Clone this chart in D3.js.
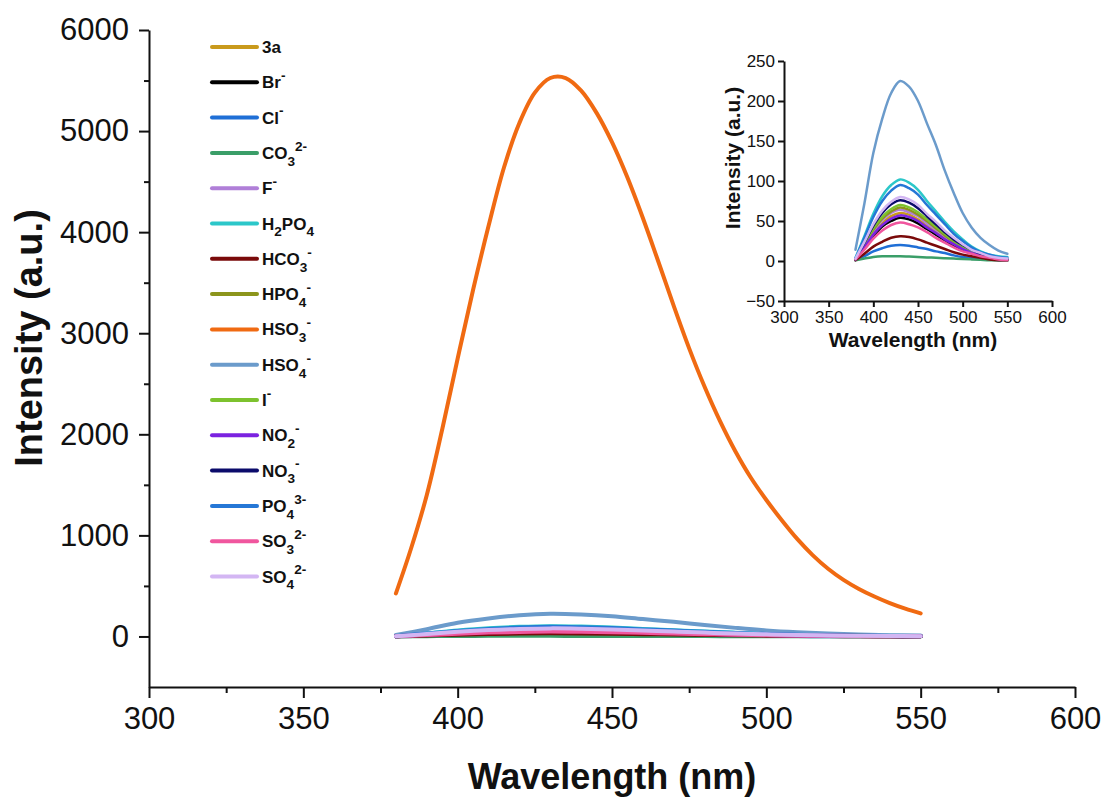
<!DOCTYPE html>
<html><head><meta charset="utf-8">
<script src="https://cdn.jsdelivr.net/npm/d3@7"></script>
<style>
body{margin:0;background:#fff}
text{font-family:"Liberation Sans",Arial,sans-serif;fill:#111}
</style>
</head><body>
<svg id="chart" width="1106" height="800"></svg>
<script>
// ---------------- data ----------------
const wlMain = [380,385,390,395,400,405,410,415,420,425,430,435,440,445,450,455,460,465,470,475,480,485,490,495,500,505,510,515,520,525,530,535,540,545,550];
const valHSO3 = [426,880,1400,2050,2750,3430,4060,4640,5080,5380,5525,5525,5400,5180,4890,4540,4140,3710,3270,2850,2470,2130,1830,1570,1350,1150,965,805,670,560,470,395,330,275,228];

const wl = [380,390,400,410,420,430,440,450,460,470,480,490,500,510,520,530,540,550];
const val3a   = [2,18,35,47,56,60,58,52,44,37,29,22,16,11,7,5,3,2];
const valBr   = [2,16,31,43,50,54,52,47,40,33,26,19,14,10,6,4,3,2];
const valCl   = [1,6,12,16,19,20,19,17,15,12,10,7,5,4,2,2,1,1];
const valCO3  = [1,3,5,6,6,6,5.5,5,4.5,4,3.5,3,2.5,2,1.5,1,1,0.5];
const valF    = [2,19,37,51,60,64,61,56,47,39,31,23,17,12,8,5,3,2];
const valH2PO4= [4,31,59,81,95,102,98,89,75,62,49,37,27,18,12,8,6,5];
const valHCO3 = [1,9,18,24,29,31,30,27,23,19,15,11,8,6,4,2,1,1];
const valHPO4 = [2,20,39,53,62,67,64,58,50,41,32,24,17,12,8,5,3,2];
const valHSO4 = [14,72,135,178,210,225,218,200,172,145,113,85,60,42,29,20,13,9];
const valI    = [2,21,41,55,65,70,67,61,52,43,34,25,18,13,8,6,3,2];
const valNO2  = [2,17,33,45,53,57,55,50,42,35,27,21,15,10,7,5,3,2];
const valNO3  = [2,23,44,60,71,76,73,66,56,46,36,27,20,14,9,6,4,2];
const valPO4  = [3,29,55,75,88,95,91,83,70,58,46,34,25,17,11,8,5,4];
const valSO3  = [2,14,28,38,45,48,46,42,36,29,23,17,12,9,6,4,2,1];
const valSO4  = [3,24,46,63,74,80,77,70,59,49,38,29,21,14,10,6,4,3];

const seriesLabels = ["3a","Br^{-}","Cl^{-}","CO_{3}^{2-}","F^{-}","H_{2}PO_{4}","HCO_{3}^{-}","HPO_{4}^{-}","HSO_{3}^{-}","HSO_{4}^{-}","I^{-}","NO_{2}^{-}","NO_{3}^{-}","PO_{4}^{3-}","SO_{3}^{2-}","SO_{4}^{2-}"];
const seriesColors = ["#C99A1C","#000000","#1F6FD6","#3A9E68","#B07FD8","#2CC7C9","#7A0A0A","#8C951C","#F06A12","#6B9BCB","#7DC22E","#7B22E0","#0B0B6B","#2577D6","#F0569E","#D3B6F3"];
const seriesValues = [val3a,valBr,valCl,valCO3,valF,valH2PO4,valHCO3,valHPO4,null,valHSO4,valI,valNO2,valNO3,valPO4,valSO3,valSO4];

const mainXTicks = [300,350,400,450,500,550,600];
const mainXMinor = [325,375,425,475,525,575];
const mainYTicks = [0,1000,2000,3000,4000,5000,6000];
const mainYMinor = [500,1500,2500,3500,4500,5500];
const insetXTicks = [300,350,400,450,500,550,600];
const insetYTicks = [-50,0,50,100,150,200,250];

// ---------------- drawing ----------------
const svg = d3.select("#chart");

const x = d3.scaleLinear().domain([300,600]).range([149,1075]);
const y = d3.scaleLinear().domain([-500,6000]).range([687,30]);

function styleAxis(g, fs){
  g.selectAll("path.domain").attr("stroke","#111").attr("stroke-width",2);
  g.selectAll(".tick line").attr("stroke","#111").attr("stroke-width",2);
  g.selectAll(".tick text").attr("font-size",fs).attr("fill","#111").attr("font-family",'"Liberation Sans",Arial,sans-serif');
}

// main axes
const gx = svg.append("g").attr("transform","translate(0,687)")
  .call(d3.axisBottom(x).tickValues(mainXTicks).tickSize(11).tickSizeOuter(0).tickPadding(9).tickFormat(d3.format("d")));
styleAxis(gx, 31);
const gxm = svg.append("g").attr("transform","translate(0,687)")
  .call(d3.axisBottom(x).tickValues(mainXMinor).tickSize(6).tickSizeOuter(0).tickFormat(""));
styleAxis(gxm, 31); gxm.select("path.domain").remove();

const gy = svg.append("g").attr("transform","translate(149,0)")
  .call(d3.axisLeft(y).tickValues(mainYTicks).tickSize(10).tickSizeOuter(0).tickPadding(10).tickFormat(d3.format("d")));
styleAxis(gy, 31);
const gym = svg.append("g").attr("transform","translate(149,0)")
  .call(d3.axisLeft(y).tickValues(mainYMinor).tickSize(5).tickSizeOuter(0).tickFormat(""));
styleAxis(gym, 31); gym.select("path.domain").remove();

svg.append("text").attr("x",612).attr("y",789).attr("text-anchor","middle")
  .attr("font-size",36).attr("font-weight","bold").text("Wavelength (nm)");
svg.append("text").attr("transform","translate(42,338) rotate(-90)").attr("text-anchor","middle")
  .attr("font-size",38).attr("font-weight","bold").text("Intensity (a.u.)");

// main lines
const lineMain = d3.line().x(d=>x(d[0])).y(d=>y(d[1])).curve(d3.curveCatmullRom.alpha(0.5));
seriesLabels.forEach((lab,i)=>{
  let pts;
  if (seriesValues[i]===null) pts = wlMain.map((w,k)=>[w,valHSO3[k]]);
  else pts = wl.map((w,k)=>[w,seriesValues[i][k]]);
  svg.append("path").datum(pts).attr("d",lineMain).attr("fill","none")
    .attr("stroke",seriesColors[i]).attr("stroke-width",4).attr("stroke-linecap","round").attr("stroke-linejoin","round");
});

// legend
function richText(sel, markup, fs){
  const re = /([_^])\{([^}]*)\}|([^_^]+)/g;
  let m, shift = 0;
  while((m = re.exec(markup))){
    if (m[3]!==undefined){
      sel.append("tspan").attr("dy",-shift).attr("font-size",fs).text(m[3]); shift=0;
    } else {
      const target = m[1]==="_" ? fs*0.4 : -fs*0.48;
      sel.append("tspan").attr("dy",target-shift).attr("font-size",fs*0.8).text(m[2]);
      shift = target;
    }
  }
}
seriesLabels.forEach((lab,i)=>{
  const yy = 47 + i*35.3;
  svg.append("line").attr("x1",212).attr("x2",257).attr("y1",yy).attr("y2",yy)
    .attr("stroke",seriesColors[i]).attr("stroke-width",4).attr("stroke-linecap","round");
  const t = svg.append("text").attr("x",262).attr("y",yy+6).attr("font-weight","bold");
  richText(t, lab, 17);
});

// inset
const xi = d3.scaleLinear().domain([300,600]).range([784,1052]);
const yi = d3.scaleLinear().domain([-50,250]).range([301,61]);
const gxi = svg.append("g").attr("transform","translate(0,301)")
  .call(d3.axisBottom(xi).tickValues(insetXTicks).tickSize(6).tickSizeOuter(0).tickPadding(4).tickFormat(d3.format("d")));
styleAxis(gxi, 17);
const gyi = svg.append("g").attr("transform","translate(784,0)")
  .call(d3.axisLeft(yi).tickValues(insetYTicks).tickSize(6).tickSizeOuter(0).tickPadding(3).tickFormat(d3.format("d")));
styleAxis(gyi, 17);
svg.append("text").attr("x",913).attr("y",347).attr("text-anchor","middle")
  .attr("font-size",21).attr("font-weight","bold").text("Wavelength (nm)");
svg.append("text").attr("transform","translate(740,158) rotate(-90)").attr("text-anchor","middle")
  .attr("font-size",21).attr("font-weight","bold").text("Intensity (a.u.)");

const lineInset = d3.line().x(d=>xi(d[0])).y(d=>yi(d[1])).curve(d3.curveCatmullRom.alpha(0.5));
seriesLabels.forEach((lab,i)=>{
  if (seriesValues[i]===null) return;
  const pts = wl.map((w,k)=>[w,seriesValues[i][k]]);
  svg.append("path").datum(pts).attr("d",lineInset).attr("fill","none")
    .attr("stroke",seriesColors[i]).attr("stroke-width",2.5).attr("stroke-linecap","round");
});
</script>
</body></html>
